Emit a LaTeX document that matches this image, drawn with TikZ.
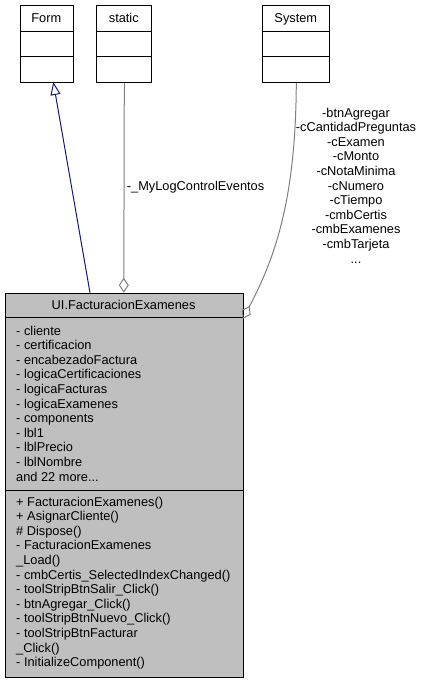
\documentclass[tikz,border=0pt]{standalone}
\usepackage{fontspec}
\setmainfont{Liberation Sans}
\usetikzlibrary{arrows.meta}
\definecolor{boxgray}{HTML}{BFBFBF}
\definecolor{congray}{HTML}{7F7F7F}
\definecolor{inhblue}{HTML}{191970}
\newcommand\mydots{...}
\begin{document}
\begin{tikzpicture}[x=1pt,y=-1pt,
  classbox/.style={draw=black, line width=1pt, inner sep=0pt, anchor=north west},
  sepline/.style={draw=black, line width=1pt},
  lbl/.style={font=\fontsize{12.8}{14.6}\selectfont, inner sep=0pt, text=black},
  aggr/.style={draw=congray, line width=1pt, -{Diamond[open,length=15pt,width=10pt]}},
  inherit/.style={draw=inhblue, line width=1pt, -{Triangle[open,length=13pt,width=10pt]}}]
\useasboundingbox (0,0) rectangle (421,683);
% top classes
\node[classbox, minimum width=52.7pt, minimum height=76.7pt] (form) at (20,5.3) {};
\draw[sepline] (20,31) -- (72.7,31) (20,56.7) -- (72.7,56.7);
\node[lbl, anchor=base] (formname) at (46.35,22) {Form};
\node[classbox, minimum width=55pt, minimum height=76.7pt] (static) at (96.3,5.3) {};
\draw[sepline] (96.3,31) -- (151.3,31) (96.3,56.7) -- (151.3,56.7);
\node[lbl, anchor=base] (staticname) at (123.8,22) {static};
\node[classbox, minimum width=67pt, minimum height=76.7pt] (system) at (262.3,5.3) {};
\draw[sepline] (262.3,31) -- (329.3,31) (262.3,56.7) -- (329.3,56.7);
\node[lbl, anchor=base] (systemname) at (295.8,22) {System};
% main class
\node[classbox, fill=boxgray, minimum width=238.2pt, minimum height=384.3pt] (main) at (4.5,292.7) {};
\draw[sepline] (4.5,317.6) -- (242.7,317.6) (4.5,490) -- (242.7,490);
\node[lbl, anchor=base] (title) at (123.6,309.5) {UI.FacturacionExamenes};
\foreach \t [count=\i from 0] in {- cliente, - certificacion, - encabezadoFactura,
  - logicaCertificaciones, - logicaFacturas, - logicaExamenes, - components,
  - lbl1, - lblPrecio, - lblNombre, and 22 more\mydots}
  \node[lbl, anchor=base west] (attr\i) at (16,335+14.6*\i) {\t};
\foreach \t [count=\i from 0] in {+ FacturacionExamenes(), + AsignarCliente(),
  \# Dispose(), - FacturacionExamenes, \_Load(), - cmbCertis\_SelectedIndexChanged(),
  - toolStripBtnSalir\_Click(), - btnAgregar\_Click(), - toolStripBtnNuevo\_Click(),
  - toolStripBtnFacturar, \_Click(), - InitializeComponent()}
  \node[lbl, anchor=base west] (meth\i) at (16,506+14.6*\i) {\t};
% connectors
\coordinate (inhstart) at (90,292.7);
\coordinate (inhend) at (53.3,82);
\draw[inherit] (inhstart) -- (inhend);
\coordinate (staticend) at (123.8,292.7);
\draw[aggr] (static.south) -- (staticend);
\node[lbl, anchor=base west] (loglbl) at (126.7,190.7) {-\_MyLogControlEventos};
\coordinate (sysend) at (242.7,319);
\draw[aggr] (system.south) .. controls (295.8,192) and (277.9,253) .. (sysend);
\foreach \t [count=\i from 0] in {-btnAgregar, -cCantidadPreguntas, -cExamen, -cMonto,
  -cNotaMinima, -cNumero, -cTiempo, -cmbCertis, -cmbExamenes, -cmbTarjeta, \mydots}
  \node[lbl, anchor=base] (sys\i) at (356,117+14.6*\i) {\t};
\end{tikzpicture}
\end{document}
